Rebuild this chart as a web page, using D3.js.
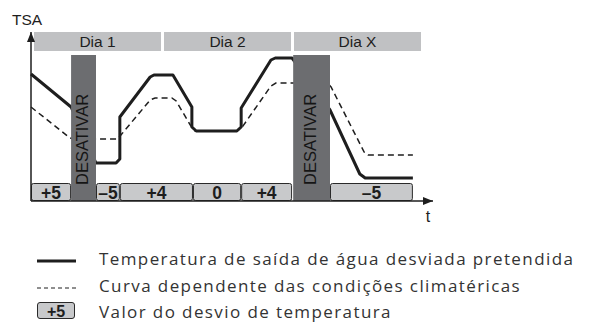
<!DOCTYPE html>
<html>
<head>
<meta charset="utf-8">
<script src="https://cdnjs.cloudflare.com/ajax/libs/d3/7.8.5/d3.min.js"></script>
<style>
  body { margin: 0; background: #fff; }
  svg { display: block; }
</style>
</head>
<body>
<div id="chart-area"></div>
<script>
// time in hours, TSA in degrees
let days = ["Dia 1", "Dia 2", "Dia X"];
let dayStarts = [0, 24, 48];

let solidT = [0, 7.4, 12.0, 15.7, 16.4, 16.4, 22.0, 22.7, 26.2, 29.7, 29.7, 30.5, 38.0, 38.8, 38.8, 44.3, 45.1, 48.2, 55.2, 60.7, 61.7, 70.5];
let solidV = [45.4, 38.8, 27.6, 27.6, 28.4, 36.8, 44.8, 45.2, 45.2, 38.8, 34.8, 34.0, 34.0, 34.8, 38.6, 48.2, 48.6, 48.6, 38.2, 25.4, 24.6, 24.6];

let dashT = [0, 7.2, 7.9, 15.9, 16.6, 22.0, 22.9, 26.0, 26.8, 29.4, 30.3, 38.0, 39.0, 44.3, 45.2, 54.7, 55.4, 61.5, 62.2, 70.5];
let dashV = [38.8, 32.6, 32.4, 32.4, 33.2, 40.2, 40.6, 40.6, 40.0, 35.2, 34.0, 34.0, 34.8, 43.0, 43.6, 43.6, 42.8, 29.8, 29.2, 29.2];

let offStart = [0, 12.0, 16.4, 29.9, 38.8, 55.2];
let offEnd = [7.4, 16.4, 29.9, 38.8, 48.2, 70.5];
let offLabels = ["+5", "\u20135", "+4", "0", "+4", "\u20135"];

let offStarts = [7.4, 48.4];
let offEnds = [12.0, 55.2];

let legendLabels = [
	"Temperatura de saída de água desviada pretendida",
	"Curva dependente das condições climatéricas",
	"Valor do desvio de temperatura"
];

let width = 595,
	height = 323;

let svg = d3.select("#chart-area").append("svg")
	.attr("width", width)
	.attr("height", height);

let x = d3.scaleLinear().domain([0, 72]).range([31, 421]);
let y = d3.scaleLinear().domain([20, 55]).range([201, 26]);

let dark = "#1e1e1e";
let sans = "'Liberation Sans', Arial, sans-serif";

// arrow heads
let defs = svg.append("defs");
defs.append("marker")
	.attr("id", "arrow")
	.attr("viewBox", "0 0 10 8")
	.attr("refX", 10).attr("refY", 4)
	.attr("markerWidth", 10).attr("markerHeight", 8)
	.attr("markerUnits", "userSpaceOnUse")
	.attr("orient", "auto")
	.append("path")
	.attr("d", "M0,0 L10,4 L0,8 Z")
	.attr("fill", dark);

// day header bars
let dayG = svg.append("g");
dayG.selectAll("rect").data(days).enter().append("rect")
	.attr("x", (d, i) => x(dayStarts[i]) + 3)
	.attr("y", 32)
	.attr("width", (d, i) => x(dayStarts[i] + 24) - x(dayStarts[i]) - 3)
	.attr("height", 19)
	.attr("fill", "#c0c1c3");
dayG.selectAll("text").data(days).enter().append("text")
	.attr("x", (d, i) => (x(dayStarts[i]) + 3 + x(dayStarts[i] + 24)) / 2)
	.attr("y", 47)
	.attr("text-anchor", "middle")
	.attr("font-family", sans)
	.attr("font-size", 15.5)
	.attr("fill", dark)
	.text(d => d);

// curves
let lineGen = d3.line()
	.x(d => x(d[0]))
	.y(d => y(d[1]));

svg.append("path")
	.datum(dashT.map((t, i) => [t, dashV[i]]))
	.attr("d", lineGen)
	.attr("fill", "none")
	.attr("stroke", dark)
	.attr("stroke-width", 1.5)
	.attr("stroke-dasharray", "6,4");

svg.append("path")
	.datum(solidT.map((t, i) => [t, solidV[i]]))
	.attr("d", lineGen)
	.attr("fill", "none")
	.attr("stroke", dark)
	.attr("stroke-width", 3)
	.attr("stroke-linejoin", "round");

// DESATIVAR bars
let offG = svg.append("g");
offG.selectAll("rect").data(offStarts).enter().append("rect")
	.attr("x", d => x(d))
	.attr("y", 55)
	.attr("width", (d, i) => x(offEnds[i]) - x(d))
	.attr("height", 201 - 55)
	.attr("fill", "#6c6d70");
offG.selectAll("text").data(offStarts).enter().append("text")
	.attr("transform", (d, i) => "translate(" + ((x(d) + x(offEnds[i])) / 2 + 4) + ",185) rotate(-90)")
	.attr("font-family", sans)
	.attr("font-size", 16.5)
	.attr("fill", "#151515")
	.text("DESATIVAR");

// offset value boxes
let boxG = svg.append("g");
boxG.selectAll("rect").data(offLabels).enter().append("rect")
	.attr("x", (d, i) => x(offStart[i]) + 0.5)
	.attr("y", 183.5)
	.attr("width", (d, i) => x(offEnd[i]) - x(offStart[i]) - 1)
	.attr("height", 17)
	.attr("rx", 2)
	.attr("fill", "#c8c9cb")
	.attr("stroke", "#2a2a2a")
	.attr("stroke-width", 1);
boxG.selectAll("text").data(offLabels).enter().append("text")
	.attr("x", (d, i) => (x(offStart[i]) + x(offEnd[i])) / 2)
	.attr("y", 198.5)
	.attr("text-anchor", "middle")
	.attr("font-family", sans)
	.attr("font-weight", "bold")
	.attr("font-size", 17.5)
	.attr("fill", dark)
	.text(d => d);

// axes
svg.append("line")
	.attr("x1", 31).attr("y1", 201)
	.attr("x2", 31).attr("y2", 32)
	.attr("stroke", dark).attr("stroke-width", 1.5)
	.attr("marker-end", "url(#arrow)");
svg.append("line")
	.attr("x1", 31).attr("y1", 201)
	.attr("x2", 433).attr("y2", 201)
	.attr("stroke", dark).attr("stroke-width", 1.5)
	.attr("marker-end", "url(#arrow)");

svg.append("text")
	.attr("x", 12).attr("y", 25)
	.attr("font-family", sans).attr("font-size", 15.5)
	.attr("fill", dark)
	.text("TSA");
svg.append("text")
	.attr("x", 428).attr("y", 222)
	.attr("text-anchor", "middle")
	.attr("font-family", sans).attr("font-size", 16)
	.attr("fill", dark)
	.text("t");

// legend
let legend = svg.append("g");
let rowY = [265, 292, 318];
legend.append("line")
	.attr("x1", 37).attr("x2", 76)
	.attr("y1", 261).attr("y2", 261)
	.attr("stroke", dark).attr("stroke-width", 3);
legend.append("line")
	.attr("x1", 37).attr("x2", 76)
	.attr("y1", 288).attr("y2", 288)
	.attr("stroke", dark).attr("stroke-width", 1)
	.attr("stroke-dasharray", "4,3");
legend.append("rect")
	.attr("x", 37.5).attr("y", 302.5)
	.attr("width", 37).attr("height", 16)
	.attr("rx", 2.5)
	.attr("fill", "#c8c9cb")
	.attr("stroke", "#2a2a2a");
legend.append("text")
	.attr("x", 56).attr("y", 316.5)
	.attr("text-anchor", "middle")
	.attr("font-family", sans).attr("font-weight", "bold").attr("font-size", 16)
	.attr("fill", dark)
	.text("+5");
legend.selectAll(".leg-label").data(legendLabels).enter().append("text")
	.attr("class", "leg-label")
	.attr("x", 99)
	.attr("y", (d, i) => rowY[i])
	.attr("font-family", "'Open Sans', sans-serif")
	.attr("font-size", 17)
	.attr("letter-spacing", 1.4)
	.attr("fill", "#333")
	.text(d => d);
</script>
</body>
</html>
